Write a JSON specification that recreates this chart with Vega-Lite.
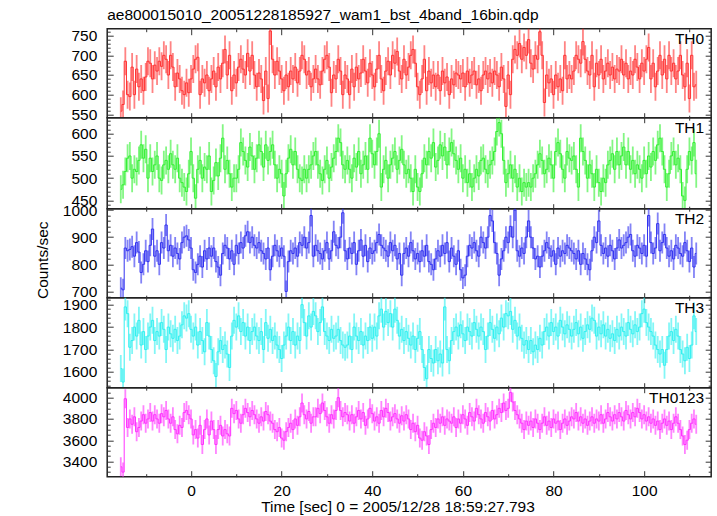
{
"$schema": "https://vega.github.io/schema/vega-lite/v6.json",
"padding": {"left": 34.2, "right": 3, "top": 7.7, "bottom": 0},
"title": {"text": "ae800015010_20051228185927_wam1_bst_4band_16bin.qdp", "anchor": "start", "frame": "group", "fontSize": 15.5, "fontWeight": "normal", "color": "#000", "offset": -8.4, "baseline": "alphabetic"},
"config": {
  "font": "Liberation Sans",
  "view": {"stroke": "#222", "strokeWidth": 1.5},
  "axis": {"domain": false, "grid": false, "minExtent": 0, "maxExtent": 300, "labelFont": "Liberation Sans", "labelFontSize": 15.5, "labelColor": "#000", "tickColor": "#333", "tickWidth": 1, "titleFont": "Liberation Sans", "titleFontSize": 15.5, "titleFontWeight": "normal", "titleColor": "#000", "labelOverlap": false, "labelFlush": false, "labelBound": false},
  "title": {"font": "Liberation Sans", "fontSize": 15.5, "fontWeight": "normal", "color": "#000"},
  "text": {"font": "Liberation Sans", "fontSize": 15.5, "color": "#000"}
},
"spacing": 0,
"bounds": "flush",
"data": {"values": [
{"t":-15.5,"a":558,"b":475,"c":712,"d":1615,"e":3350},
{"t":-15,"a":575,"b":485,"c":706,"d":1555,"e":3300},
{"t":-14.5,"a":685,"b":515,"c":860,"d":1890,"e":3990},
{"t":-14,"a":600,"b":545,"c":850,"d":1860,"e":3720},
{"t":-13.5,"a":595,"b":550,"c":855,"d":1710,"e":3800},
{"t":-13,"a":670,"b":500,"c":865,"d":1740,"e":3750},
{"t":-12.5,"a":600,"b":520,"c":830,"d":1800,"e":3820},
{"t":-12,"a":665,"b":515,"c":880,"d":1760,"e":3680},
{"t":-11.5,"a":620,"b":540,"c":845,"d":1830,"e":3720},
{"t":-11,"a":640,"b":575,"c":770,"d":1720,"e":3780},
{"t":-10.5,"a":610,"b":545,"c":800,"d":1780,"e":3840},
{"t":-10,"a":645,"b":565,"c":850,"d":1700,"e":3760},
{"t":-9.5,"a":685,"b":500,"c":810,"d":1760,"e":3800},
{"t":-9,"a":680,"b":545,"c":870,"d":1800,"e":3860},
{"t":-8.5,"a":640,"b":515,"c":930,"d":1830,"e":3780},
{"t":-8,"a":675,"b":530,"c":830,"d":1740,"e":3840},
{"t":-7.5,"a":660,"b":550,"c":850,"d":1780,"e":3800},
{"t":-7,"a":685,"b":500,"c":800,"d":1760,"e":3760},
{"t":-6.5,"a":672,"b":495,"c":880,"d":1820,"e":3850},
{"t":-6,"a":700,"b":530,"c":860,"d":1790,"e":3820},
{"t":-5.5,"a":690,"b":540,"c":945,"d":1700,"e":3880},
{"t":-5,"a":650,"b":520,"c":850,"d":1800,"e":3800},
{"t":-4.5,"a":700,"b":555,"c":870,"d":1770,"e":3760},
{"t":-4,"a":670,"b":530,"c":830,"d":1750,"e":3820},
{"t":-3.5,"a":620,"b":520,"c":860,"d":1790,"e":3700},
{"t":-3,"a":655,"b":545,"c":840,"d":1740,"e":3660},
{"t":-2.5,"a":640,"b":500,"c":820,"d":1760,"e":3740},
{"t":-2,"a":610,"b":490,"c":880,"d":1810,"e":3720},
{"t":-1.5,"a":600,"b":480,"c":900,"d":1850,"e":3860},
{"t":-1,"a":630,"b":470,"c":905,"d":1840,"e":3880},
{"t":-0.5,"a":605,"b":510,"c":890,"d":1860,"e":3840},
{"t":0,"a":640,"b":560,"c":860,"d":1790,"e":3800},
{"t":0.5,"a":665,"b":500,"c":780,"d":1760,"e":3650},
{"t":1,"a":690,"b":455,"c":770,"d":1800,"e":3700},
{"t":1.5,"a":695,"b":520,"c":800,"d":1720,"e":3620},
{"t":2,"a":600,"b":540,"c":830,"d":1780,"e":3740},
{"t":2.5,"a":640,"b":500,"c":790,"d":1740,"e":3560},
{"t":3,"a":630,"b":525,"c":850,"d":1690,"e":3700},
{"t":3.5,"a":650,"b":520,"c":820,"d":1820,"e":3800},
{"t":4,"a":610,"b":550,"c":860,"d":1760,"e":3650},
{"t":4.5,"a":640,"b":470,"c":830,"d":1700,"e":3780},
{"t":5,"a":660,"b":495,"c":860,"d":1650,"e":3700},
{"t":5.5,"a":620,"b":535,"c":810,"d":1580,"e":3560},
{"t":6,"a":670,"b":505,"c":790,"d":1690,"e":3700},
{"t":6.5,"a":640,"b":545,"c":760,"d":1740,"e":3740},
{"t":7,"a":680,"b":590,"c":840,"d":1700,"e":3640},
{"t":7.5,"a":715,"b":520,"c":870,"d":1720,"e":3700},
{"t":8,"a":650,"b":540,"c":860,"d":1680,"e":3660},
{"t":8.5,"a":700,"b":510,"c":820,"d":1620,"e":3640},
{"t":9,"a":610,"b":480,"c":850,"d":1760,"e":3900},
{"t":9.5,"a":650,"b":500,"c":800,"d":1830,"e":3850},
{"t":10,"a":630,"b":500,"c":870,"d":1800,"e":3880},
{"t":10.5,"a":670,"b":520,"c":840,"d":1850,"e":3800},
{"t":11,"a":690,"b":580,"c":880,"d":1780,"e":3760},
{"t":11.5,"a":665,"b":560,"c":860,"d":1820,"e":3840},
{"t":12,"a":650,"b":540,"c":905,"d":1760,"e":3900},
{"t":12.5,"a":705,"b":525,"c":920,"d":1800,"e":3860},
{"t":13,"a":660,"b":570,"c":880,"d":1740,"e":3820},
{"t":13.5,"a":700,"b":550,"c":900,"d":1780,"e":3880},
{"t":14,"a":650,"b":520,"c":870,"d":1800,"e":3840},
{"t":14.5,"a":620,"b":545,"c":860,"d":1760,"e":3800},
{"t":15,"a":655,"b":575,"c":880,"d":1740,"e":3760},
{"t":15.5,"a":640,"b":560,"c":850,"d":1780,"e":3820},
{"t":16,"a":585,"b":525,"c":840,"d":1700,"e":3780},
{"t":16.5,"a":660,"b":575,"c":820,"d":1820,"e":3870},
{"t":17,"a":590,"b":540,"c":860,"d":1750,"e":3840},
{"t":17.5,"a":762,"b":560,"c":780,"d":1790,"e":3780},
{"t":18,"a":690,"b":575,"c":830,"d":1740,"e":3760},
{"t":18.5,"a":650,"b":530,"c":870,"d":1760,"e":3700},
{"t":19,"a":685,"b":500,"c":850,"d":1720,"e":3680},
{"t":19.5,"a":660,"b":520,"c":830,"d":1700,"e":3720},
{"t":20,"a":640,"b":510,"c":860,"d":1660,"e":3620},
{"t":20.5,"a":610,"b":460,"c":830,"d":1720,"e":3600},
{"t":21,"a":650,"b":510,"c":700,"d":1760,"e":3680},
{"t":21.5,"a":620,"b":545,"c":810,"d":1800,"e":3720},
{"t":22,"a":660,"b":565,"c":850,"d":1740,"e":3760},
{"t":22.5,"a":640,"b":530,"c":840,"d":1780,"e":3700},
{"t":23,"a":670,"b":560,"c":860,"d":1720,"e":3800},
{"t":23.5,"a":630,"b":520,"c":830,"d":1760,"e":3740},
{"t":24,"a":660,"b":500,"c":880,"d":1740,"e":3820},
{"t":24.5,"a":700,"b":495,"c":870,"d":1900,"e":3950},
{"t":25,"a":690,"b":520,"c":900,"d":1820,"e":3840},
{"t":25.5,"a":650,"b":500,"c":860,"d":1760,"e":3800},
{"t":26,"a":660,"b":520,"c":880,"d":1850,"e":3870},
{"t":26.5,"a":620,"b":530,"c":980,"d":1800,"e":3760},
{"t":27,"a":640,"b":550,"c":830,"d":1870,"e":3820},
{"t":27.5,"a":665,"b":560,"c":870,"d":1850,"e":3820},
{"t":28,"a":640,"b":530,"c":850,"d":1780,"e":3900},
{"t":28.5,"a":625,"b":510,"c":840,"d":1820,"e":3850},
{"t":29,"a":660,"b":495,"c":820,"d":1890,"e":3950},
{"t":29.5,"a":690,"b":520,"c":850,"d":1780,"e":3880},
{"t":30,"a":700,"b":540,"c":880,"d":1760,"e":3820},
{"t":30.5,"a":670,"b":500,"c":820,"d":1740,"e":3760},
{"t":31,"a":605,"b":525,"c":850,"d":1790,"e":3840},
{"t":31.5,"a":650,"b":545,"c":920,"d":1750,"e":3800},
{"t":32,"a":640,"b":560,"c":870,"d":1760,"e":3880},
{"t":32.5,"a":690,"b":590,"c":860,"d":1790,"e":4000},
{"t":33,"a":660,"b":580,"c":900,"d":1740,"e":3880},
{"t":33.5,"a":600,"b":530,"c":990,"d":1720,"e":3820},
{"t":34,"a":650,"b":520,"c":850,"d":1710,"e":3860},
{"t":34.5,"a":640,"b":540,"c":820,"d":1720,"e":3840},
{"t":35,"a":600,"b":520,"c":860,"d":1760,"e":3780},
{"t":35.5,"a":665,"b":500,"c":840,"d":1700,"e":3840},
{"t":36,"a":620,"b":545,"c":880,"d":1800,"e":3760},
{"t":36.5,"a":670,"b":525,"c":800,"d":1760,"e":3820},
{"t":37,"a":640,"b":560,"c":850,"d":1740,"e":3880},
{"t":37.5,"a":655,"b":510,"c":890,"d":1780,"e":3800},
{"t":38,"a":690,"b":530,"c":830,"d":1720,"e":3860},
{"t":38.5,"a":660,"b":550,"c":870,"d":1760,"e":3740},
{"t":39,"a":630,"b":520,"c":810,"d":1740,"e":3800},
{"t":39.5,"a":680,"b":590,"c":860,"d":1800,"e":3900},
{"t":40,"a":650,"b":555,"c":840,"d":1750,"e":3850},
{"t":40.5,"a":620,"b":530,"c":850,"d":1800,"e":3780},
{"t":41,"a":665,"b":560,"c":880,"d":1760,"e":3820},
{"t":41.5,"a":700,"b":600,"c":910,"d":1850,"e":3760},
{"t":42,"a":640,"b":480,"c":870,"d":1880,"e":3880},
{"t":42.5,"a":610,"b":520,"c":860,"d":1800,"e":3820},
{"t":43,"a":660,"b":540,"c":850,"d":1870,"e":3900},
{"t":43.5,"a":685,"b":500,"c":830,"d":1820,"e":3860},
{"t":44,"a":650,"b":530,"c":880,"d":1860,"e":3780},
{"t":44.5,"a":700,"b":545,"c":850,"d":1800,"e":3820},
{"t":45,"a":680,"b":560,"c":870,"d":1880,"e":3850},
{"t":45.5,"a":710,"b":520,"c":820,"d":1830,"e":3800},
{"t":46,"a":660,"b":540,"c":840,"d":1760,"e":3760},
{"t":46.5,"a":640,"b":565,"c":760,"d":1790,"e":3830},
{"t":47,"a":690,"b":530,"c":840,"d":1740,"e":3780},
{"t":47.5,"a":650,"b":510,"c":860,"d":1780,"e":3840},
{"t":48,"a":670,"b":520,"c":830,"d":1750,"e":3800},
{"t":48.5,"a":700,"b":500,"c":880,"d":1720,"e":3700},
{"t":49,"a":715,"b":470,"c":850,"d":1760,"e":3760},
{"t":49.5,"a":680,"b":520,"c":820,"d":1700,"e":3680},
{"t":50,"a":620,"b":480,"c":840,"d":1750,"e":3740},
{"t":50.5,"a":600,"b":470,"c":810,"d":1780,"e":3620},
{"t":51,"a":640,"b":510,"c":850,"d":1700,"e":3600},
{"t":51.5,"a":690,"b":545,"c":830,"d":1620,"e":3680},
{"t":52,"a":610,"b":530,"c":870,"d":1570,"e":3640},
{"t":52.5,"a":660,"b":560,"c":810,"d":1700,"e":3560},
{"t":53,"a":630,"b":545,"c":800,"d":1660,"e":3700},
{"t":53.5,"a":650,"b":580,"c":780,"d":1640,"e":3760},
{"t":54,"a":620,"b":525,"c":820,"d":1700,"e":3720},
{"t":54.5,"a":650,"b":540,"c":850,"d":1650,"e":3800},
{"t":55,"a":610,"b":575,"c":830,"d":1680,"e":3760},
{"t":55.5,"a":660,"b":550,"c":870,"d":1640,"e":3820},
{"t":56,"a":630,"b":570,"c":840,"d":1890,"e":3740},
{"t":56.5,"a":645,"b":530,"c":880,"d":1700,"e":3800},
{"t":57,"a":600,"b":560,"c":810,"d":1650,"e":3780},
{"t":57.5,"a":640,"b":580,"c":860,"d":1740,"e":3760},
{"t":58,"a":625,"b":555,"c":830,"d":1780,"e":3820},
{"t":58.5,"a":655,"b":540,"c":800,"d":1800,"e":3720},
{"t":59,"a":650,"b":520,"c":850,"d":1760,"e":3800},
{"t":59.5,"a":640,"b":545,"c":780,"d":1810,"e":3760},
{"t":60,"a":655,"b":500,"c":750,"d":1770,"e":3840},
{"t":60.5,"a":620,"b":520,"c":760,"d":1740,"e":3800},
{"t":61,"a":660,"b":490,"c":830,"d":1800,"e":3740},
{"t":61.5,"a":630,"b":510,"c":870,"d":1780,"e":3860},
{"t":62,"a":650,"b":480,"c":860,"d":1760,"e":3820},
{"t":62.5,"a":660,"b":500,"c":880,"d":1820,"e":3780},
{"t":63,"a":625,"b":520,"c":850,"d":1790,"e":3900},
{"t":63.5,"a":640,"b":505,"c":830,"d":1760,"e":3840},
{"t":64,"a":610,"b":540,"c":900,"d":1800,"e":3800},
{"t":64.5,"a":650,"b":545,"c":880,"d":1780,"e":3760},
{"t":65,"a":660,"b":520,"c":860,"d":1700,"e":3860},
{"t":65.5,"a":640,"b":510,"c":900,"d":1760,"e":3820},
{"t":66,"a":655,"b":530,"c":980,"d":1820,"e":3780},
{"t":66.5,"a":630,"b":540,"c":960,"d":1790,"e":3880},
{"t":67,"a":660,"b":560,"c":880,"d":1750,"e":3800},
{"t":67.5,"a":650,"b":605,"c":840,"d":1800,"e":3840},
{"t":68,"a":620,"b":625,"c":760,"d":1770,"e":3900},
{"t":68.5,"a":670,"b":600,"c":820,"d":1840,"e":3860},
{"t":69,"a":640,"b":540,"c":850,"d":1800,"e":3950},
{"t":69.5,"a":570,"b":490,"c":900,"d":1860,"e":3880},
{"t":70,"a":650,"b":510,"c":880,"d":1850,"e":3900},
{"t":70.5,"a":600,"b":530,"c":940,"d":1870,"e":4050},
{"t":71,"a":690,"b":500,"c":900,"d":1790,"e":3960},
{"t":71.5,"a":715,"b":520,"c":1000,"d":1830,"e":3880},
{"t":72,"a":700,"b":480,"c":850,"d":1760,"e":3840},
{"t":72.5,"a":730,"b":500,"c":830,"d":1800,"e":3800},
{"t":73,"a":690,"b":470,"c":860,"d":1750,"e":3760},
{"t":73.5,"a":720,"b":490,"c":840,"d":1720,"e":3700},
{"t":74,"a":700,"b":480,"c":900,"d":1740,"e":3780},
{"t":74.5,"a":740,"b":490,"c":960,"d":1700,"e":3740},
{"t":75,"a":680,"b":480,"c":900,"d":1740,"e":3780},
{"t":75.5,"a":665,"b":500,"c":860,"d":1690,"e":3720},
{"t":76,"a":700,"b":510,"c":820,"d":1720,"e":3800},
{"t":76.5,"a":690,"b":530,"c":830,"d":1700,"e":3760},
{"t":77,"a":760,"b":555,"c":790,"d":1750,"e":3700},
{"t":77.5,"a":700,"b":540,"c":830,"d":1720,"e":3760},
{"t":78,"a":580,"b":510,"c":850,"d":1780,"e":3820},
{"t":78.5,"a":650,"b":520,"c":880,"d":1800,"e":3740},
{"t":79,"a":630,"b":545,"c":860,"d":1760,"e":3780},
{"t":79.5,"a":640,"b":530,"c":830,"d":1820,"e":3720},
{"t":80,"a":600,"b":500,"c":850,"d":1780,"e":3800},
{"t":80.5,"a":650,"b":560,"c":800,"d":1800,"e":3760},
{"t":81,"a":620,"b":580,"c":860,"d":1760,"e":3780},
{"t":81.5,"a":640,"b":555,"c":830,"d":1830,"e":3700},
{"t":82,"a":610,"b":520,"c":850,"d":1800,"e":3760},
{"t":82.5,"a":700,"b":500,"c":840,"d":1770,"e":3800},
{"t":83,"a":640,"b":560,"c":870,"d":1810,"e":3740},
{"t":83.5,"a":650,"b":545,"c":860,"d":1790,"e":3780},
{"t":84,"a":640,"b":540,"c":850,"d":1760,"e":3820},
{"t":84.5,"a":660,"b":550,"c":840,"d":1790,"e":3800},
{"t":85,"a":700,"b":520,"c":820,"d":1820,"e":3860},
{"t":85.5,"a":690,"b":480,"c":850,"d":1770,"e":3780},
{"t":86,"a":680,"b":590,"c":800,"d":1800,"e":3820},
{"t":86.5,"a":735,"b":560,"c":840,"d":1750,"e":3760},
{"t":87,"a":690,"b":540,"c":820,"d":1780,"e":3800},
{"t":87.5,"a":660,"b":500,"c":800,"d":1810,"e":3740},
{"t":88,"a":650,"b":530,"c":780,"d":1790,"e":3780},
{"t":88.5,"a":700,"b":510,"c":850,"d":1840,"e":3820},
{"t":89,"a":620,"b":480,"c":900,"d":1830,"e":3760},
{"t":89.5,"a":680,"b":520,"c":880,"d":1760,"e":3800},
{"t":90,"a":650,"b":490,"c":960,"d":1800,"e":3780},
{"t":90.5,"a":690,"b":470,"c":870,"d":1770,"e":3840},
{"t":91,"a":640,"b":500,"c":840,"d":1810,"e":3760},
{"t":91.5,"a":660,"b":490,"c":860,"d":1760,"e":3800},
{"t":92,"a":680,"b":530,"c":830,"d":1790,"e":3860},
{"t":92.5,"a":650,"b":540,"c":870,"d":1750,"e":3820},
{"t":93,"a":670,"b":555,"c":850,"d":1770,"e":3780},
{"t":93.5,"a":640,"b":520,"c":820,"d":1740,"e":3840},
{"t":94,"a":665,"b":560,"c":860,"d":1790,"e":3800},
{"t":94.5,"a":660,"b":530,"c":890,"d":1760,"e":3860},
{"t":95,"a":690,"b":550,"c":860,"d":1800,"e":3820},
{"t":95.5,"a":650,"b":570,"c":870,"d":1780,"e":3780},
{"t":96,"a":680,"b":530,"c":880,"d":1760,"e":3880},
{"t":96.5,"a":640,"b":560,"c":900,"d":1820,"e":3840},
{"t":97,"a":660,"b":520,"c":910,"d":1790,"e":3800},
{"t":97.5,"a":650,"b":540,"c":850,"d":1770,"e":3860},
{"t":98,"a":690,"b":510,"c":830,"d":1810,"e":3820},
{"t":98.5,"a":670,"b":530,"c":870,"d":1780,"e":3900},
{"t":99,"a":640,"b":520,"c":860,"d":1800,"e":3860},
{"t":99.5,"a":680,"b":500,"c":840,"d":1860,"e":3800},
{"t":100,"a":660,"b":540,"c":870,"d":1880,"e":3840},
{"t":100.5,"a":690,"b":510,"c":830,"d":1820,"e":3780},
{"t":101,"a":720,"b":550,"c":980,"d":1800,"e":3820},
{"t":101.5,"a":640,"b":525,"c":880,"d":1780,"e":3760},
{"t":102,"a":680,"b":560,"c":840,"d":1760,"e":3800},
{"t":102.5,"a":620,"b":540,"c":860,"d":1720,"e":3740},
{"t":103,"a":660,"b":575,"c":950,"d":1700,"e":3780},
{"t":103.5,"a":700,"b":590,"c":850,"d":1680,"e":3700},
{"t":104,"a":650,"b":560,"c":880,"d":1700,"e":3760},
{"t":104.5,"a":690,"b":520,"c":910,"d":1630,"e":3800},
{"t":105,"a":640,"b":480,"c":860,"d":1700,"e":3740},
{"t":105.5,"a":700,"b":510,"c":830,"d":1760,"e":3780},
{"t":106,"a":660,"b":550,"c":850,"d":1780,"e":3700},
{"t":106.5,"a":680,"b":560,"c":820,"d":1740,"e":3760},
{"t":107,"a":640,"b":530,"c":870,"d":1790,"e":3820},
{"t":107.5,"a":660,"b":545,"c":860,"d":1760,"e":3760},
{"t":108,"a":700,"b":520,"c":840,"d":1700,"e":3700},
{"t":108.5,"a":650,"b":460,"c":830,"d":1680,"e":3640},
{"t":109,"a":620,"b":450,"c":880,"d":1650,"e":3560},
{"t":109.5,"a":680,"b":520,"c":850,"d":1710,"e":3600},
{"t":110,"a":590,"b":560,"c":810,"d":1660,"e":3700},
{"t":110.5,"a":700,"b":540,"c":860,"d":1720,"e":3760},
{"t":111,"a":620,"b":580,"c":790,"d":1850,"e":3800},
{"t":111.5,"a":625,"b":510,"c":840,"d":1780,"e":3750}
]},
"vconcat": [
{
  "width": 604, "height": 89,
  "layer": [
    {"mark": {"type": "tick", "orient": "vertical", "color": "#ff3030", "opacity": 0.6, "thickness": 1.8, "size": 28, "clip": true},
     "encoding": {
       "x": {"field": "t", "type": "quantitative", "scale": {"domain": [-18.5, 114.8], "nice": false, "zero": false},
             "axis": {"orient": "bottom", "values": [-10,0,10,20,30,40,50,60,70,80,90,100,110], "labels": false, "title": null, "tickSize": {"condition": {"test": "datum.value % 20 === 0", "value": 5}, "value": 2.5}}},
       "y": {"field": "a", "type": "quantitative", "scale": {"domain": [541.4, 767.7], "nice": false, "zero": false},
             "axis": {"orient": "left", "values": [550,600,650,700,750], "format": "d", "ticks": false, "labelPadding": 10.4, "title": null}}}},
    {"mark": {"type": "line", "interpolate": "step", "color": "#ff3030", "strokeWidth": 1, "clip": true},
     "encoding": {
       "x": {"field": "t", "type": "quantitative", "scale": {"domain": [-18.5, 114.8], "nice": false, "zero": false},
             "axis": {"orient": "top", "values": [-10,0,10,20,30,40,50,60,70,80,90,100,110], "labels": false, "title": null, "tickSize": {"condition": {"test": "datum.value % 20 === 0", "value": -6}, "value": -3}}},
       "y": {"field": "a", "type": "quantitative", "scale": {"domain": [541.4, 767.7], "nice": false, "zero": false},
             "axis": {"orient": "right", "values": [550,560,570,580,590,600,610,620,630,640,650,660,670,680,690,700,710,720,730,740,750,760], "labels": false, "title": null, "tickSize": {"condition": {"test": "datum.value % 50 === 0", "value": -6}, "value": -3}}}}},
    {"data": {"values": [{"name": "TH0"}]},
     "mark": {"type": "text", "align": "right", "baseline": "alphabetic"},
     "encoding": {
       "x": {"datum": 113.25, "type": "quantitative", "axis": null},
       "y": {"datum": 729.7, "type": "quantitative",
             "axis": {"orient": "left", "values": [550,560,570,580,590,600,610,620,630,640,650,660,670,680,690,700,710,720,730,740,750,760], "labels": false, "title": null, "tickSize": {"condition": {"test": "datum.value % 50 === 0", "value": -6}, "value": -3}}},
       "text": {"field": "name"}}}
  ],
  "resolve": {"axis": {"x": "independent", "y": "independent"}}
},
{
  "width": 604, "height": 91,
  "layer": [
    {"mark": {"type": "tick", "orient": "vertical", "color": "#30f030", "opacity": 0.6, "thickness": 1.8, "size": 28, "clip": true},
     "encoding": {
       "x": {"field": "t", "type": "quantitative", "scale": {"domain": [-18.5, 114.8], "nice": false, "zero": false},
             "axis": {"orient": "bottom", "values": [-10,0,10,20,30,40,50,60,70,80,90,100,110], "labels": false, "title": null, "tickSize": {"condition": {"test": "datum.value % 20 === 0", "value": 5}, "value": 2.5}}},
       "y": {"field": "b", "type": "quantitative", "scale": {"domain": [431.4, 636], "nice": false, "zero": false},
             "axis": {"orient": "left", "values": [450,500,550,600], "format": "d", "ticks": false, "labelPadding": 10.4, "title": null}}}},
    {"mark": {"type": "line", "interpolate": "step", "color": "#30f030", "strokeWidth": 1, "clip": true},
     "encoding": {
       "x": {"field": "t", "type": "quantitative", "scale": {"domain": [-18.5, 114.8], "nice": false, "zero": false},
             "axis": {"orient": "top", "values": [-10,0,10,20,30,40,50,60,70,80,90,100,110], "labels": false, "title": null, "tickSize": {"condition": {"test": "datum.value % 20 === 0", "value": 5}, "value": 2.5}}},
       "y": {"field": "b", "type": "quantitative", "scale": {"domain": [431.4, 636], "nice": false, "zero": false},
             "axis": {"orient": "right", "values": [440,450,460,470,480,490,500,510,520,530,540,550,560,570,580,590,600,610,620,630], "labels": false, "title": null, "tickSize": {"condition": {"test": "datum.value % 50 === 0", "value": -6}, "value": -3}}}}},
    {"data": {"values": [{"name": "TH1"}]},
     "mark": {"type": "text", "align": "right", "baseline": "alphabetic"},
     "encoding": {
       "x": {"datum": 113.25, "type": "quantitative", "axis": null},
       "y": {"datum": 602.3, "type": "quantitative",
             "axis": {"orient": "left", "values": [440,450,460,470,480,490,500,510,520,530,540,550,560,570,580,590,600,610,620,630], "labels": false, "title": null, "tickSize": {"condition": {"test": "datum.value % 50 === 0", "value": -6}, "value": -3}}},
       "text": {"field": "name"}}}
  ],
  "resolve": {"axis": {"x": "independent", "y": "independent"}}
},
{
  "width": 604, "height": 89,
  "layer": [
    {"mark": {"type": "tick", "orient": "vertical", "color": "#3030f0", "opacity": 0.6, "thickness": 1.8, "size": 22, "clip": true},
     "encoding": {
       "x": {"field": "t", "type": "quantitative", "scale": {"domain": [-18.5, 114.8], "nice": false, "zero": false},
             "axis": {"orient": "bottom", "values": [-10,0,10,20,30,40,50,60,70,80,90,100,110], "labels": false, "title": null, "tickSize": {"condition": {"test": "datum.value % 20 === 0", "value": 5}, "value": 2.5}}},
       "y": {"field": "c", "type": "quantitative", "scale": {"domain": [677, 1005], "nice": false, "zero": false},
             "axis": {"orient": "left", "values": [700,800,900,1000], "format": "d", "ticks": false, "labelPadding": 10.4, "title": "Counts/sec", "titleX": -57, "titleY": 51, "titleAngle": 270, "titleBaseline": "bottom", "titleAlign": "center"}}}},
    {"mark": {"type": "line", "interpolate": "step", "color": "#3030f0", "strokeWidth": 1, "clip": true},
     "encoding": {
       "x": {"field": "t", "type": "quantitative", "scale": {"domain": [-18.5, 114.8], "nice": false, "zero": false},
             "axis": {"orient": "top", "values": [-10,0,10,20,30,40,50,60,70,80,90,100,110], "labels": false, "title": null, "tickSize": {"condition": {"test": "datum.value % 20 === 0", "value": 5}, "value": 2.5}}},
       "y": {"field": "c", "type": "quantitative", "scale": {"domain": [677, 1005], "nice": false, "zero": false},
             "axis": {"orient": "right", "values": [680,700,720,740,760,780,800,820,840,860,880,900,920,940,960,980,1000], "labels": false, "title": null, "tickSize": {"condition": {"test": "datum.value % 100 === 0", "value": -6}, "value": -3}}}}},
    {"data": {"values": [{"name": "TH2"}]},
     "mark": {"type": "text", "align": "right", "baseline": "alphabetic"},
     "encoding": {
       "x": {"datum": 113.25, "type": "quantitative", "axis": null},
       "y": {"datum": 949.6, "type": "quantitative",
             "axis": {"orient": "left", "values": [680,700,720,740,760,780,800,820,840,860,880,900,920,940,960,980,1000], "labels": false, "title": null, "tickSize": {"condition": {"test": "datum.value % 100 === 0", "value": -6}, "value": -3}}},
       "text": {"field": "name"}}}
  ],
  "resolve": {"axis": {"x": "independent", "y": "independent"}}
},
{
  "width": 604, "height": 90,
  "layer": [
    {"mark": {"type": "tick", "orient": "vertical", "color": "#30f0f0", "opacity": 0.6, "thickness": 1.8, "size": 27, "clip": true},
     "encoding": {
       "x": {"field": "t", "type": "quantitative", "scale": {"domain": [-18.5, 114.8], "nice": false, "zero": false},
             "axis": {"orient": "bottom", "values": [-10,0,10,20,30,40,50,60,70,80,90,100,110], "labels": false, "title": null, "tickSize": {"condition": {"test": "datum.value % 20 === 0", "value": 5}, "value": 2.5}}},
       "y": {"field": "d", "type": "quantitative", "scale": {"domain": [1530, 1931], "nice": false, "zero": false},
             "axis": {"orient": "left", "values": [1600,1700,1800,1900], "format": "d", "ticks": false, "labelPadding": 10.4, "title": null}}}},
    {"mark": {"type": "line", "interpolate": "step", "color": "#30f0f0", "strokeWidth": 1, "clip": true},
     "encoding": {
       "x": {"field": "t", "type": "quantitative", "scale": {"domain": [-18.5, 114.8], "nice": false, "zero": false},
             "axis": {"orient": "top", "values": [-10,0,10,20,30,40,50,60,70,80,90,100,110], "labels": false, "title": null, "tickSize": {"condition": {"test": "datum.value % 20 === 0", "value": 5}, "value": 2.5}}},
       "y": {"field": "d", "type": "quantitative", "scale": {"domain": [1530, 1931], "nice": false, "zero": false},
             "axis": {"orient": "right", "values": [1540,1560,1580,1600,1620,1640,1660,1680,1700,1720,1740,1760,1780,1800,1820,1840,1860,1880,1900,1920], "labels": false, "title": null, "tickSize": {"condition": {"test": "datum.value % 100 === 0", "value": -6}, "value": -3}}}}},
    {"data": {"values": [{"name": "TH3"}]},
     "mark": {"type": "text", "align": "right", "baseline": "alphabetic"},
     "encoding": {
       "x": {"datum": 113.25, "type": "quantitative", "axis": null},
       "y": {"datum": 1864.5, "type": "quantitative",
             "axis": {"orient": "left", "values": [1540,1560,1580,1600,1620,1640,1660,1680,1700,1720,1740,1760,1780,1800,1820,1840,1860,1880,1900,1920], "labels": false, "title": null, "tickSize": {"condition": {"test": "datum.value % 100 === 0", "value": -6}, "value": -3}}},
       "text": {"field": "name"}}}
  ],
  "resolve": {"axis": {"x": "independent", "y": "independent"}}
},
{
  "width": 604, "height": 89,
  "layer": [
    {"mark": {"type": "tick", "orient": "vertical", "color": "#ff30ff", "opacity": 0.6, "thickness": 1.8, "size": 19, "clip": true},
     "encoding": {
       "x": {"field": "t", "type": "quantitative", "scale": {"domain": [-18.5, 114.8], "nice": false, "zero": false},
             "axis": {"orient": "bottom", "values": [0,20,40,60,80,100], "format": "d", "ticks": false, "labelPadding": 7.2, "title": "Time [sec] 0 = 2005/12/28 18:59:27.793", "titleX": 290.3, "titleY": 35.1, "titleBaseline": "alphabetic", "titleAlign": "center"}},
       "y": {"field": "e", "type": "quantitative", "scale": {"domain": [3257, 4094], "nice": false, "zero": false},
             "axis": {"orient": "left", "values": [3400,3600,3800,4000], "format": "d", "ticks": false, "labelPadding": 10.4, "title": null}}}},
    {"mark": {"type": "line", "interpolate": "step", "color": "#ff30ff", "strokeWidth": 1, "clip": true},
     "encoding": {
       "x": {"field": "t", "type": "quantitative", "scale": {"domain": [-18.5, 114.8], "nice": false, "zero": false},
             "axis": {"orient": "top", "values": [-10,0,10,20,30,40,50,60,70,80,90,100,110], "labels": false, "title": null, "tickSize": {"condition": {"test": "datum.value % 20 === 0", "value": 5}, "value": 2.5}}},
       "y": {"field": "e", "type": "quantitative", "scale": {"domain": [3257, 4094], "nice": false, "zero": false},
             "axis": {"orient": "right", "values": [3300,3350,3400,3450,3500,3550,3600,3650,3700,3750,3800,3850,3900,3950,4000,4050], "labels": false, "title": null, "tickSize": {"condition": {"test": "datum.value % 200 === 0", "value": -6}, "value": -3}}}}},
    {"data": {"values": [{"name": "TH0123"}]},
     "mark": {"type": "text", "align": "right", "baseline": "alphabetic"},
     "encoding": {
       "x": {"datum": 113.25, "type": "quantitative",
             "axis": {"orient": "bottom", "values": [-10,0,10,20,30,40,50,60,70,80,90,100,110], "labels": false, "title": null, "tickSize": {"condition": {"test": "datum.value % 20 === 0", "value": -6}, "value": -3}}},
       "y": {"datum": 3953.4, "type": "quantitative",
             "axis": {"orient": "left", "values": [3300,3350,3400,3450,3500,3550,3600,3650,3700,3750,3800,3850,3900,3950,4000,4050], "labels": false, "title": null, "tickSize": {"condition": {"test": "datum.value % 200 === 0", "value": -6}, "value": -3}}},
       "text": {"field": "name"}}}
  ],
  "resolve": {"axis": {"x": "independent", "y": "independent"}}
}
]
}
